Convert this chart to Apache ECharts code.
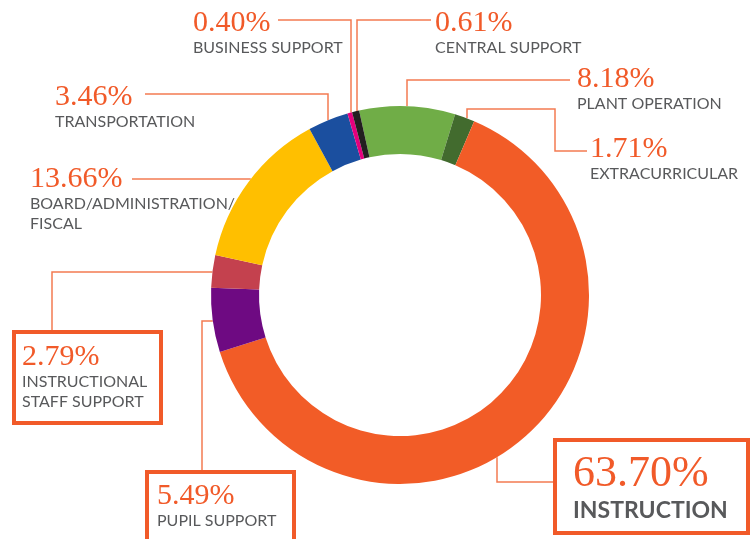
<!DOCTYPE html>
<html>
<head>
<meta charset="utf-8">
<script src="https://cdn.jsdelivr.net/npm/echarts@6/dist/echarts.min.js"></script>
<style>
  html, body { margin: 0; padding: 0; background: #fff; }
  #chart { width: 755px; height: 539px; }
</style>
</head>
<body>
<div id="chart"></div>
<script>
// spending share by category, clockwise from the top
const categories = [
  'PLANT OPERATION',
  'EXTRACURRICULAR',
  'INSTRUCTION',
  'PUPIL SUPPORT',
  'INSTRUCTIONAL\nSTAFF SUPPORT',
  'BOARD/ADMINISTRATION/\nFISCAL',
  'TRANSPORTATION',
  'BUSINESS SUPPORT',
  'CENTRAL SUPPORT'
]
const shares = [8.18, 1.71, 63.70, 5.49, 2.79, 13.66, 3.46, 0.40, 0.61]
const sliceColors = ['#70ad47', '#426b2e', '#f25c27', '#6e0a82', '#c4414e', '#ffbf00', '#1b4f9f', '#e5007d', '#231f20']

const CX = 400
const CY = 295
const R_IN = 141
const R_OUT = 189
const ORANGE = '#f15a29'
const GREY = '#58595b'

// where the ring is crossed by a vertical / horizontal leader
const ringTop = (x) => CY - Math.sqrt(R_OUT * R_OUT - (x - CX) * (x - CX))
const ringBottom = (x) => CY + Math.sqrt(R_OUT * R_OUT - (x - CX) * (x - CX))
const ringLeft = (y) => CX - Math.sqrt(R_OUT * R_OUT - (y - CY) * (y - CY))

// label boxes and leader routes, same order as categories
const spots = [
  { x: 577, y: 64, line: [[407, ringTop(407)], [407, 80], [570, 80]] },
  { x: 590, y: 134, line: [[467, ringTop(467)], [467, 109], [555, 109], [555, 151], [587, 151]] },
  { x: 555, y: 440, line: [[497, ringBottom(497)], [497, 482], [555, 482]] },
  { x: 147, y: 472, line: [[ringLeft(321), 321], [202, 321], [202, 472]] },
  { x: 14, y: 332, line: [[ringLeft(272), 272], [52, 272], [52, 332]] },
  { x: 30, y: 164, line: [[ringLeft(179), 179], [132, 179]] },
  { x: 55, y: 82, line: [[328, ringTop(328)], [328, 94], [145, 94]] },
  { x: 193, y: 8, line: [[351, ringTop(351)], [351, 20], [278, 20]] },
  { x: 435, y: 8, line: [[357, ringTop(357)], [357, 20], [431, 20]] }
]

const boxed = {
  2: { padding: [12, 10, 7, 18], width: 165 },
  3: { padding: [9, 10, 40, 10], width: 127 },
  4: { padding: [10, 8, 11, 8], width: 131 }
}

const richStyles = {
  v: { fontFamily: 'Liberation Serif', fontSize: 30, lineHeight: 30, color: ORANGE },
  n: { fontFamily: 'Lato', fontSize: 16, lineHeight: 20, color: GREY },
  vb: { fontFamily: 'Liberation Serif', fontSize: 44, lineHeight: 44, color: ORANGE },
  nb: { fontFamily: 'Lato', fontSize: 23, fontWeight: 'bold', lineHeight: 30, color: GREY }
}

const pieData = categories.map((name, i) => {
  const item = {
    name: name,
    value: shares[i],
    itemStyle: { color: sliceColors[i] }
  }
  if (boxed[i]) {
    item.label = {
      borderColor: ORANGE,
      borderWidth: 4,
      padding: boxed[i].padding,
      width: boxed[i].width
    }
  }
  return item
})

const myChart = echarts.init(document.getElementById('chart'))

const option = {
  backgroundColor: '#fff',
  animation: false,
  series: [
    {
      type: 'pie',
      center: [CX, CY],
      radius: [R_IN, R_OUT],
      startAngle: 102.5,
      clockwise: true,
      avoidLabelOverlap: false,
      silent: true,
      data: pieData,
      label: {
        show: true,
        position: 'outside',
        formatter: (p) => {
          const big = p.dataIndex === 2
          const v = p.value.toFixed(2) + '%'
          return big ? `{vb|${v}}\n{nb|${p.name}}` : `{v|${v}}\n{n|${p.name}}`
        },
        rich: richStyles
      },
      labelLine: {
        show: true,
        length: 10,
        length2: 10,
        lineStyle: { color: '#f37b52', width: 1.5 }
      },
      labelLayout: (params) => {
        const s = spots[params.dataIndex]
        return {
          x: s.x,
          y: s.y,
          align: 'left',
          verticalAlign: 'top',
          labelLinePoints: s.line
        }
      }
    }
  ]
}

myChart.setOption(option)
</script>
</body>
</html>
